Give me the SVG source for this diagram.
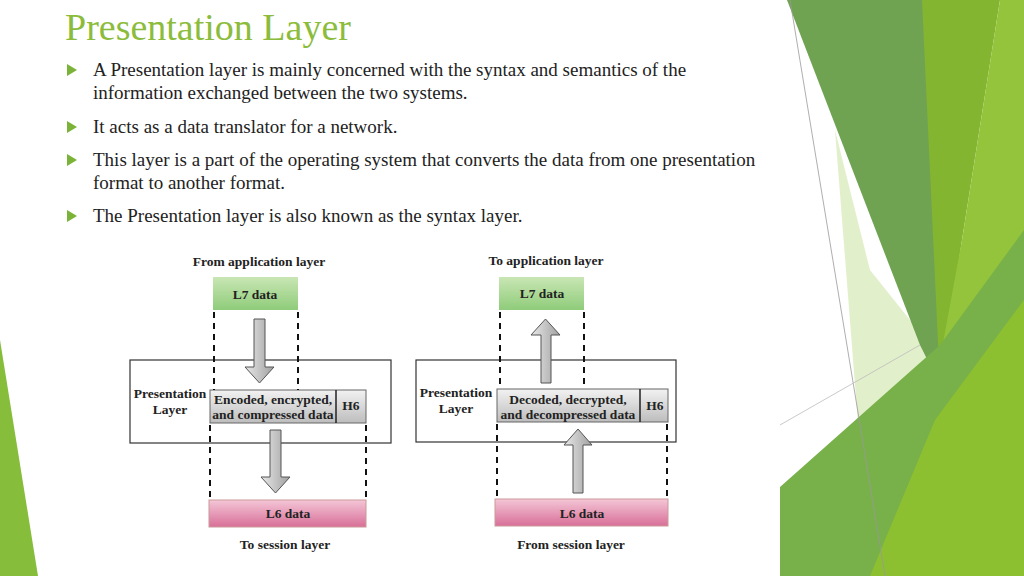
<svg xmlns="http://www.w3.org/2000/svg" width="1024" height="576" viewBox="0 0 1024 576">
<defs>
<linearGradient id="gG" x1="0" y1="0" x2="0" y2="1"><stop offset="0" stop-color="#c9e6b4"/><stop offset="1" stop-color="#8fcc7a"/></linearGradient>
<linearGradient id="gP" x1="0" y1="0" x2="0" y2="1"><stop offset="0" stop-color="#f4c6d6"/><stop offset="1" stop-color="#d86f98"/></linearGradient>
<linearGradient id="gD" x1="0" y1="0" x2="0" y2="1"><stop offset="0" stop-color="#f2f2f2"/><stop offset="1" stop-color="#bdbdbd"/></linearGradient>
<linearGradient id="gA" x1="0" y1="0" x2="1" y2="0"><stop offset="0" stop-color="#e8e8e8"/><stop offset="1" stop-color="#a0a0a0"/></linearGradient>
<style>
.t{font-family:"Liberation Serif",serif;font-size:19px;fill:#222}
.d{font-family:"Liberation Serif",serif;font-size:13.5px;font-weight:bold;fill:#222;text-anchor:middle}
.dash{stroke:#111;stroke-width:2;stroke-dasharray:6,5;fill:none}
.box{fill:#fff;stroke:#333;stroke-width:1.2}
.arr{fill:url(#gA);stroke:#555;stroke-width:1}
</style>
</defs>
<rect width="1024" height="576" fill="#fff"/>
<g id="decor">
<polygon points="835,130 870,270 958,380 945,560 870,576" fill="#cfe5a8" opacity="0.6"/>
<polygon points="787,0 925,0 960,240 940,385 920,345" fill="#6fa352"/>
<polygon points="922,0 1000,0 962,240 940,385" fill="#84b530"/>
<polygon points="1000,0 1024,0 1024,576 900,576 962,240" fill="#94c43c"/>
<polygon points="780,576 780,487 940,345 1024,230 1024,576" fill="#78b04a"/>
<polygon points="870,576 935,420 1024,300 1024,576" fill="#8dc030"/>
<polygon points="0,340 38,576 0,576" fill="#86bd3a"/>
<line x1="790" y1="0" x2="885" y2="576" stroke="#999" stroke-width="0.8"/>
<line x1="780" y1="425" x2="920" y2="345" stroke="#bbb" stroke-width="0.8"/>
</g>
<text x="65" y="40" font-family="Liberation Serif,serif" font-size="38" fill="#8cbc3c">Presentation Layer</text>
<g fill="#7ab338">
<polygon points="67,64 67,76 77,70"/><polygon points="67,121 67,133 77,127"/><polygon points="67,154 67,166 77,160"/><polygon points="67,210 67,222 77,216"/>
</g>
<text class="t" x="93" y="76">A Presentation layer is mainly concerned with the syntax and semantics of the</text>
<text class="t" x="93" y="99">information exchanged between the two systems.</text>
<text class="t" x="93" y="133">It acts as a data translator for a network.</text>
<text class="t" x="93" y="166">This layer is a part of the operating system that converts the data from one presentation</text>
<text class="t" x="93" y="189">format to another format.</text>
<text class="t" x="93" y="222">The Presentation layer is also known as the syntax layer.</text>
<g id="left">
<rect class="box" x="130" y="360" width="261" height="83"/>
<rect id="l7a" x="213" y="277" width="85" height="33" fill="url(#gG)"/>
<rect id="l6a" x="209" y="500" width="157" height="27" fill="url(#gP)" stroke="#c99"/>
<rect id="da" x="210" y="390" width="156" height="33" fill="url(#gD)" stroke="#666"/>
<line x1="336" y1="390" x2="336" y2="423" stroke="#222" stroke-width="1.5"/>
<g class="dash"><line x1="214" y1="312" x2="214" y2="390"/><line x1="298" y1="312" x2="298" y2="390"/><line x1="210" y1="425" x2="210" y2="500"/><line x1="366" y1="425" x2="366" y2="500"/></g>
<g id="conn-left">
<polygon class="arr" points="254,319 265,319 265,367 274,367 259.5,383 245,367 254,367"/>
<polygon class="arr" points="270,430 281,430 281,477 290,477 275.5,493 261,477 270,477"/>
</g>
<text class="d" x="259" y="266">From application layer</text>
<text class="d" x="255" y="299">L7 data</text>
<text class="d" x="170" y="398">Presentation</text><text class="d" x="170" y="414">Layer</text>
<text class="d" x="273" y="404">Encoded, encrypted,</text><text class="d" x="273" y="419" font-size="11.5">and compressed data</text>
<text class="d" x="351" y="410">H6</text>
<text class="d" x="288" y="518">L6 data</text>
<text class="d" x="285" y="549">To session layer</text>
</g>
<g id="right">
<rect class="box" x="416" y="360" width="260" height="82"/>
<rect id="l7b" x="499" y="277" width="85" height="33" fill="url(#gG)"/>
<rect id="l6b" x="495" y="499" width="173" height="27" fill="url(#gP)" stroke="#c99"/>
<rect id="db" x="497" y="389" width="171" height="33" fill="url(#gD)" stroke="#666"/>
<line x1="640" y1="389" x2="640" y2="422" stroke="#222" stroke-width="1.5"/>
<g class="dash"><line x1="500" y1="312" x2="500" y2="389"/><line x1="584" y1="312" x2="584" y2="389"/><line x1="497" y1="424" x2="497" y2="499"/><line x1="667" y1="424" x2="667" y2="499"/></g>
<g id="conn-right">
<polygon class="arr" points="545.5,319 560,335 551,335 551,383 541,383 541,335 531,335"/>
<polygon class="arr" points="578,429 592,445 583,445 583,493 573,493 573,445 564,445"/>
</g>
<text class="d" x="546" y="265">To application layer</text>
<text class="d" x="542" y="298">L7 data</text>
<text class="d" x="456" y="397">Presentation</text><text class="d" x="456" y="413">Layer</text>
<text class="d" x="568" y="404">Decoded, decrypted,</text><text class="d" x="568" y="419" font-size="12.5">and decompressed data</text>
<text class="d" x="655" y="410">H6</text>
<text class="d" x="582" y="518">L6 data</text>
<text class="d" x="571" y="549">From session layer</text>
</g>
</svg>
